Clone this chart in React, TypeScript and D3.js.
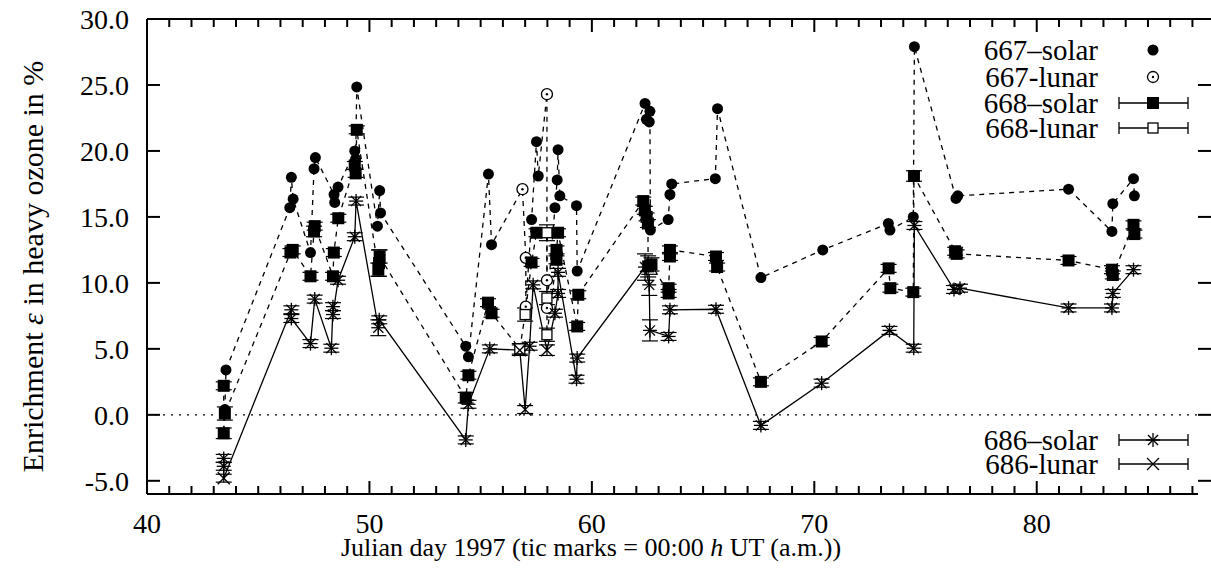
import React from "react";
import * as d3 from "d3";

// 667 nm, solar occultation (filled circles)
const solar667Day = [43.5, 43.55, 46.42, 46.49, 46.57, 47.35, 47.51, 47.57, 48.41, 48.44, 48.59, 49.34, 49.38, 49.43, 50.36, 50.46, 50.5, 54.33, 54.45, 55.35, 55.49, 57.29, 57.51, 57.59, 58.34, 58.44, 58.48, 58.56, 59.31, 59.34, 62.39, 62.45, 62.58, 62.61, 62.63, 63.43, 63.51, 63.59, 65.55, 65.65, 67.6, 70.38, 73.33, 73.4, 74.45, 74.5, 76.37, 76.45, 81.43, 83.38, 83.42, 84.35, 84.39];
const solar667Val = [0.4, 3.4, 15.7, 18.0, 16.35, 12.3, 18.65, 19.5, 16.7, 16.1, 17.26, 20.0, 19.4, 24.85, 14.3, 17.0, 15.3, 5.2, 4.4, 18.25, 12.9, 14.8, 20.7, 18.1, 15.7, 17.8, 20.1, 16.6, 15.85, 10.9, 23.6, 22.4, 22.2, 23.0, 14.0, 14.8, 16.7, 17.5, 17.9, 23.2, 10.4, 12.5, 14.5, 14.0, 15.0, 27.9, 16.4, 16.6, 17.1, 13.9, 16.0, 17.9, 16.6];

// 667 nm, lunar (open circles)
const lunar667Day = [56.88, 57.03, 57.03, 57.98, 57.98, 57.98];
const lunar667Val = [17.1, 11.9, 8.2, 24.3, 10.2, 8.1];

// 668 nm, solar (filled squares, y error)
const solar668Day = [43.45, 43.5, 43.45, 46.45, 46.55, 47.35, 47.51, 47.54, 48.36, 48.4, 48.6, 49.34, 49.38, 49.43, 50.4, 50.43, 50.46, 54.33, 54.45, 55.33, 55.49, 57.29, 57.51, 58.41, 58.41, 58.48, 59.34, 59.39, 62.31, 62.38, 62.46, 62.52, 62.53, 62.68, 63.45, 63.45, 63.51, 63.51, 65.58, 65.63, 67.6, 70.33, 73.34, 73.42, 74.45, 74.48, 76.33, 76.4, 81.43, 83.38, 83.42, 84.35, 84.39];
const solar668Val = [2.2, 0.1, -1.4, 12.3, 12.5, 10.5, 13.9, 14.3, 10.5, 12.3, 14.9, 18.9, 18.3, 21.6, 11.0, 11.5, 12.0, 1.3, 3.0, 8.5, 7.7, 11.55, 13.8, 11.75, 12.5, 13.8, 6.7, 9.1, 16.2, 15.5, 15.0, 14.5, 11.25, 11.4, 9.2, 9.6, 12.0, 12.5, 12.0, 11.2, 2.5, 5.56, 11.1, 9.6, 9.3, 18.1, 12.4, 12.2, 11.7, 11.0, 10.6, 14.4, 13.7];
const solar668Err = [0.3, 0.5, 0.4, 0.3, 0.3, 0.3, 0.4, 0.3, 0.3, 0.3, 0.3, 0.3, 0.3, 0.3, 0.5, 1.0, 0.5, 0.4, 0.3, 0.3, 0.3, 0.3, 0.3, 0.3, 0.3, 0.3, 0.3, 0.3, 0.3, 0.3, 0.3, 0.3, 0.8, 0.5, 0.3, 0.3, 0.3, 0.3, 0.3, 0.3, 0.3, 0.3, 0.3, 0.3, 0.3, 0.4, 0.3, 0.3, 0.3, 0.3, 0.3, 0.3, 0.3];

// 668 nm, lunar (open squares, y error)
const lunar668Day = [56.76, 57.0, 57.98, 57.98, 57.98];
const lunar668Val = [5.0, 7.6, 13.8, 8.85, 6.07];
const lunar668Err = [0.4, 0.5, 0.6, 0.5, 0.5];

// 686 nm, solar (asterisks, y error)
const solar686Day = [43.45, 43.45, 46.49, 46.49, 47.35, 47.54, 48.29, 48.36, 48.36, 48.59, 49.34, 49.4, 50.4, 50.44, 54.33, 54.45, 55.41, 57.2, 57.36, 58.34, 58.48, 58.48, 59.31, 59.34, 62.39, 62.58, 62.61, 63.45, 63.51, 65.58, 67.6, 70.33, 73.38, 74.47, 74.5, 76.28, 76.55, 81.43, 83.38, 83.42, 84.35];
const solar686Val = [-3.3, -3.9, 7.96, 7.3, 5.4, 8.77, 5.05, 8.2, 7.6, 10.2, 13.5, 16.2, 6.6, 7.2, -1.9, 0.8, 5.0, 5.2, 9.85, 7.7, 9.2, 10.8, 2.7, 4.3, 11.2, 9.85, 6.4, 5.94, 7.96, 8.0, -0.8, 2.4, 6.4, 5.05, 14.35, 9.5, 9.6, 8.1, 8.1, 9.2, 11.0];
const solar686Err = [0.3, 0.3, 0.3, 0.3, 0.3, 0.3, 0.3, 0.3, 0.3, 0.3, 0.3, 0.3, 0.6, 0.3, 0.3, 0.3, 0.3, 0.3, 0.3, 0.3, 0.3, 0.3, 0.3, 0.3, 1.0, 0.8, 0.8, 0.3, 0.3, 0.3, 0.3, 0.3, 0.3, 0.3, 0.3, 0.3, 0.3, 0.3, 0.3, 0.3, 0.3];

// 686 nm, lunar (crosses, y error)
const lunar686Day = [43.45, 56.76, 57.0, 57.98];
const lunar686Val = [-4.8, 4.9, 0.4, 4.9];
const lunar686Err = [0.3, 0.4, 0.3, 0.4];

const yTicks = [-5, 0, 5, 10, 15, 20, 25, 30];
const xTicks = [40, 50, 60, 70, 80];

const legendTop = ["667–solar", "667-lunar", "668–solar", "668-lunar"];
const legendBottom = ["686–solar", "686-lunar"];

const FONT = "'Liberation Serif', 'Times New Roman', serif";

const zip = (d: number[], v: number[], e?: number[]) =>
  d.map((day, i) => ({ day, val: v[i], err: e ? e[i] : 0 }));

function Star({ cx, cy, s = 7 }: any) {
  const d = s * 0.72;
  return (
    <g stroke="#000" strokeWidth={1.3}>
      <line x1={cx - s} y1={cy} x2={cx + s} y2={cy} />
      <line x1={cx} y1={cy - s} x2={cx} y2={cy + s} />
      <line x1={cx - d} y1={cy - d} x2={cx + d} y2={cy + d} />
      <line x1={cx - d} y1={cy + d} x2={cx + d} y2={cy - d} />
    </g>
  );
}

function Cross({ cx, cy, s = 6 }: any) {
  return (
    <g stroke="#000" strokeWidth={1.3}>
      <line x1={cx - s} y1={cy - s} x2={cx + s} y2={cy + s} />
      <line x1={cx - s} y1={cy + s} x2={cx + s} y2={cy - s} />
    </g>
  );
}

export default function App() {
  const width = 1211;
  const height = 568;
  const margin = { top: 19, right: 13, bottom: 74, left: 147 };

  const x = d3.scaleLinear().domain([40, 87.25]).range([margin.left, width - margin.right]);
  const y = d3.scaleLinear().domain([-6, 30]).range([height - margin.bottom, margin.top]);

  const s667 = zip(solar667Day, solar667Val);
  const l667 = zip(lunar667Day, lunar667Val);
  const s668 = zip(solar668Day, solar668Val, solar668Err);
  const l668 = zip(lunar668Day, lunar668Val, lunar668Err);
  const s686 = zip(solar686Day, solar686Val, solar686Err);
  const l686 = zip(lunar686Day, lunar686Val, lunar686Err);

  const byDay = (a: any[]) => [...a].sort((p, q) => p.day - q.day);
  const line = d3.line<any>().x((d) => x(d.day)).y((d) => y(d.val));

  const minorTicks = d3.range(40, 88, 1);
  const bottom = y.range()[0];
  const top = y.range()[1];
  const left = x.range()[0];
  const right = x.range()[1];

  const errBar = (d: any, key: string) => (
    <g key={key} stroke="#000" strokeWidth={1.2}>
      <line x1={x(d.day)} x2={x(d.day)} y1={y(d.val - d.err)} y2={y(d.val + d.err)} />
      <line x1={x(d.day) - 8} x2={x(d.day) + 8} y1={y(d.val - d.err)} y2={y(d.val - d.err)} />
      <line x1={x(d.day) - 8} x2={x(d.day) + 8} y1={y(d.val + d.err)} y2={y(d.val + d.err)} />
    </g>
  );

  const legendBar = (cy: number) => (
    <g stroke="#000" strokeWidth={1.3}>
      <line x1={1119} x2={1188} y1={cy} y2={cy} />
      <line x1={1119} x2={1119} y1={cy - 6} y2={cy + 6} />
      <line x1={1188} x2={1188} y1={cy - 6} y2={cy + 6} />
    </g>
  );

  const legendTopY = [50, 77, 103, 128];
  const legendBottomY = [440, 464];

  return (
    <svg width={width} height={height} style={{ position: "absolute", left: 0, top: 0, background: "#fff" }} fontFamily={FONT}>
      <rect width={width} height={height} fill="#fff" />

      {/* zero line */}
      <line x1={left} x2={right} y1={y(0)} y2={y(0)} stroke="#000" strokeWidth={1.3} strokeDasharray="2,6" />

      {/* frame */}
      <g stroke="#000" strokeWidth={2} fill="none">
        <line x1={left} x2={right} y1={top} y2={top} />
        <line x1={left} x2={right} y1={bottom} y2={bottom} />
        <line x1={left} x2={left} y1={top} y2={bottom} />
      </g>

      {/* x ticks */}
      <g stroke="#000" strokeWidth={2}>
        {minorTicks.map((t) => {
          const major = t % 10 === 0;
          const len = major ? 13 : 8;
          return (
            <g key={t}>
              <line x1={x(t)} x2={x(t)} y1={bottom} y2={bottom - len} />
              <line x1={x(t)} x2={x(t)} y1={top} y2={top + len} />
            </g>
          );
        })}
        {yTicks.map((t) => (
          <g key={t}>
            <line x1={left} x2={left + 13} y1={y(t)} y2={y(t)} />
            <line x1={right} x2={right + 13} y1={y(t)} y2={y(t)} />
          </g>
        ))}
      </g>

      {/* tick labels */}
      <g fontSize={28} fill="#000">
        {yTicks.map((t) => (
          <text key={t} x={129} y={y(t)} dy="0.35em" textAnchor="end">
            {t.toFixed(1)}
          </text>
        ))}
        {xTicks.map((t) => (
          <text key={t} x={x(t)} y={533} textAnchor="middle">
            {t}
          </text>
        ))}
      </g>

      {/* axis titles */}
      <text x={591} y={556} fontSize={26} textAnchor="middle">
        Julian day 1997 (tic marks = 00:00 <tspan fontStyle="italic">h</tspan> UT (a.m.))
      </text>
      <text transform={`translate(43,${(top + bottom) / 2 + 10}) rotate(-90)`} fontSize={30} textAnchor="middle">
        Enrichment <tspan fontStyle="italic">ε</tspan> in heavy ozone in %
      </text>

      {/* connecting lines */}
      <path d={line(byDay([...s667, ...l667])) || ""} fill="none" stroke="#000" strokeWidth={1.3} strokeDasharray="5,5" />
      <path d={line(byDay([...s668, ...l668])) || ""} fill="none" stroke="#000" strokeWidth={1.3} strokeDasharray="5,5" />
      <path d={line(byDay([...s686, ...l686])) || ""} fill="none" stroke="#000" strokeWidth={1.3} />

      {/* error bars */}
      {s668.map((d, i) => errBar(d, "e668s" + i))}
      {l668.map((d, i) => errBar(d, "e668l" + i))}
      {s686.map((d, i) => errBar(d, "e686s" + i))}
      {l686.map((d, i) => errBar(d, "e686l" + i))}

      {/* markers */}
      {s667.map((d, i) => (
        <circle key={"c" + i} cx={x(d.day)} cy={y(d.val)} r={5.5} fill="#000" />
      ))}
      {l667.map((d, i) => (
        <g key={"o" + i}>
          <circle cx={x(d.day)} cy={y(d.val)} r={5.5} fill="#fff" stroke="#000" strokeWidth={1.3} />
          <circle cx={x(d.day)} cy={y(d.val)} r={1.2} fill="#000" />
        </g>
      ))}
      {s668.map((d, i) => (
        <rect key={"s" + i} x={x(d.day) - 6} y={y(d.val) - 6} width={12} height={12} fill="#000" />
      ))}
      {l668.map((d, i) => (
        <rect key={"q" + i} x={x(d.day) - 5} y={y(d.val) - 5} width={10} height={10} fill="#fff" stroke="#000" strokeWidth={1.3} />
      ))}
      {s686.map((d, i) => (
        <Star key={"a" + i} cx={x(d.day)} cy={y(d.val)} />
      ))}
      {l686.map((d, i) => (
        <Cross key={"x" + i} cx={x(d.day)} cy={y(d.val)} />
      ))}

      {/* legend */}
      <g fontSize={29} textAnchor="end">
        {legendTop.map((t, i) => (
          <text key={t} x={1098} y={legendTopY[i]} dy="0.33em">
            {t}
          </text>
        ))}
        {legendBottom.map((t, i) => (
          <text key={t} x={1098} y={legendBottomY[i]} dy="0.33em">
            {t}
          </text>
        ))}
      </g>
      <circle cx={1153} cy={legendTopY[0]} r={5.5} fill="#000" />
      <circle cx={1153} cy={legendTopY[1]} r={5.5} fill="#fff" stroke="#000" strokeWidth={1.3} />
      <circle cx={1153} cy={legendTopY[1]} r={1.2} fill="#000" />
      {legendBar(legendTopY[2])}
      <rect x={1147} y={legendTopY[2] - 6} width={12} height={12} fill="#000" />
      {legendBar(legendTopY[3])}
      <rect x={1148} y={legendTopY[3] - 5} width={10} height={10} fill="#fff" stroke="#000" strokeWidth={1.3} />
      {legendBar(legendBottomY[0])}
      <Star cx={1153} cy={legendBottomY[0]} />
      {legendBar(legendBottomY[1])}
      <Cross cx={1153} cy={legendBottomY[1]} />
    </svg>
  );
}
